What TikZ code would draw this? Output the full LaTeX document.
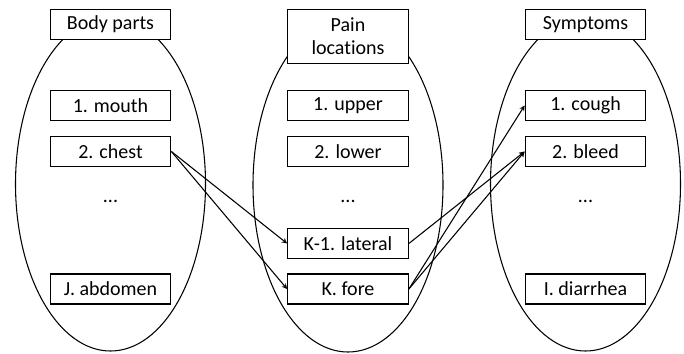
\documentclass[tikz,border=0pt]{standalone}
\usepackage{fontspec}
\setmainfont[Ligatures=NoCommon]{Carlito}
\usetikzlibrary{arrows,shapes.geometric}

\begin{document}
\begin{tikzpicture}[x=0.75pt,y=-0.75pt,>=stealth,
		font=\fontsize{15}{17}\selectfont,
		every path/.style={line width=0.8pt},
		group/.style={draw,ellipse,minimum width=142.5pt,minimum height=250.5pt,inner sep=0pt},
		title/.style={draw,fill=white,minimum width=90.5pt,minimum height=23pt,align=center,inner sep=2pt},
		item/.style={draw,fill=white,minimum width=90.5pt,minimum height=22.5pt,inner sep=1pt}]
	\useasboundingbox (0,0) rectangle (684,353);
	% the three groups
	\node[group] (gb) at (110.5, 184) {};
	\node[group] (gp) at (348, 185) {};
	\node[group] (gs) at (585.5, 184) {};
	\node[title] (tb) at (110.5, 24.5) {Body parts};
	\node[title,minimum height=41pt] (tp) at (348, 36.5) {Pain\\locations};
	\node[title] (ts) at (585.5, 24.5) {Symptoms};
	% body parts
	\node[item] (b1) at (110.5, 105.5) {1. mouth};
	\node[item] (b2) at (110.5, 151.5) {2. chest};
	\node (bd) at (110.5, 201) {...};
	\node[item] (bj) at (110.5, 289) {J. abdomen};
	% pain locations
	\node[item] (p1) at (348, 105.5) {1. upper};
	\node[item] (p2) at (348, 151.5) {2. lower};
	\node (pd) at (348, 201) {...};
	\node[item] (pk1) at (348, 243.5) {K-1. lateral};
	\node[item] (pk) at (348, 289) {K. fore};
	% symptoms
	\node[item] (s1) at (585.5, 105.5) {1. cough};
	\node[item] (s2) at (585.5, 151.5) {2. bleed};
	\node (sd) at (585.5, 201) {...};
	\node[item] (si) at (585.5, 289) {I. diarrhea};
	% links
	\draw[->] (b2.east) to (pk1.west);
	\draw[->] (b2.east) to (pk.west);
	\draw[->] (pk1.east) to (s2.west);
	\draw[->] (pk.east) to (s1.west);
	\draw[->] (pk.east) to (s2.west);
\end{tikzpicture}
\end{document}
